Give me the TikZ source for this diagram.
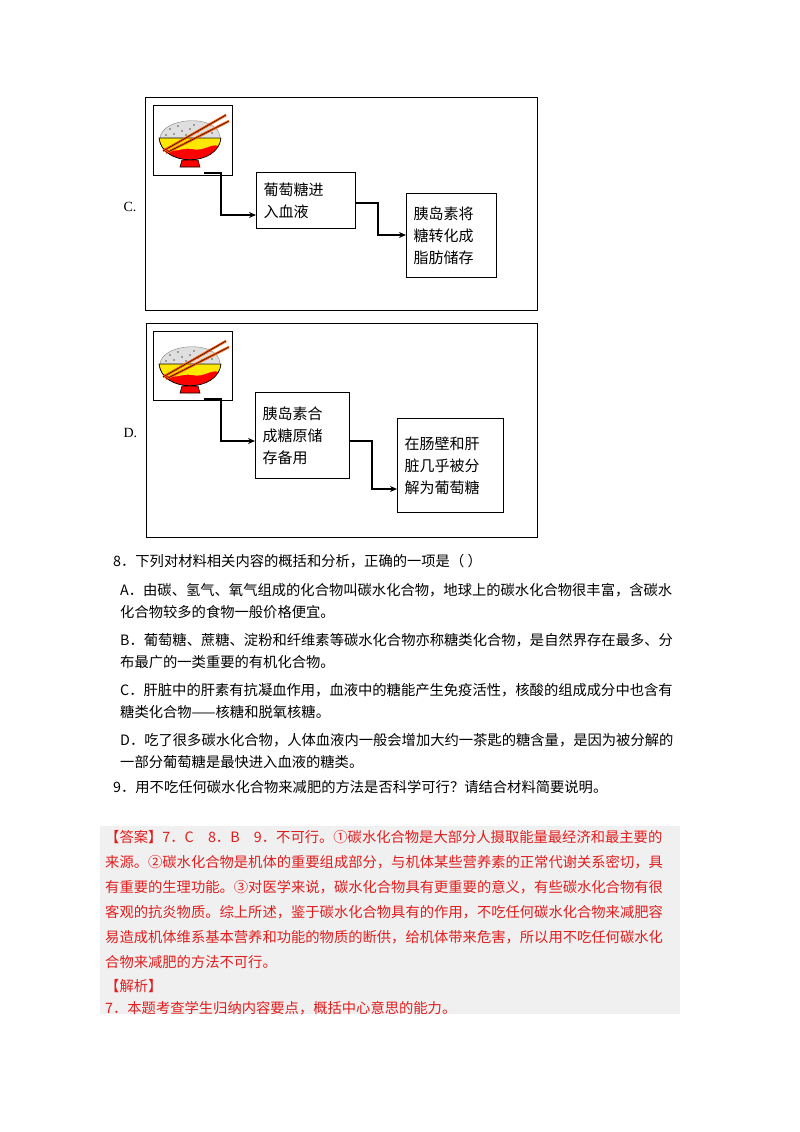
\documentclass[tikz,border=0pt]{standalone}
\usetikzlibrary{arrows.meta}
\usepackage{fontspec}
\setmainfont{Liberation Serif}
\newfontfamily\cjk{Noto Sans CJK SC}
\definecolor{ansred}{RGB}{225,30,30}
\definecolor{bgray}{RGB}{240,240,240}
\begin{document}
\begin{tikzpicture}[x=1pt,y=-1pt,
  frame/.style={draw,line width=1.3pt},
  stepbox/.style={draw,line width=1.3pt,align=left,inner sep=0pt,font=\cjk\fontsize{15}{22}\selectfont},
  arr/.style={line width=1.2pt,-{Stealth[length=7pt,width=6pt]}},
  txt/.style={anchor=west,inner sep=0pt,font=\cjk\fontsize{14.3}{16}\selectfont},
  rtxt/.style={txt,text=ansred}]
\useasboundingbox (0,0) rectangle (800,1132);
\newcommand\bowl[2]{%
 \begin{scope}[shift={(#1,#2)}]
  \fill[gray!25] (-30,4) .. controls (-30,-18) and (28,-22) .. (30,2) -- cycle;
  \draw[gray,line width=0.4pt] (-30,4) .. controls (-30,-18) and (28,-22) .. (30,2);
  \foreach \a/\b in {0/-6,8/-3,16/-8,-8/-4,-16/-1,4/-10,-12/-9,22/-2,-20/-6,12/-1,-4/0,20/-10,-24/0}{\fill[gray!70!black] (\a,\b) circle (0.9);}
  \fill[red] (-31,3) .. controls (-28,32) and (28,32) .. (31,3) -- cycle;
  \fill[yellow!90!orange] (-31,3) -- (31,3) -- (29,11) .. controls (20,8) and (14,17) .. (2,14) .. controls (-10,12) and (-16,20) .. (-28,12) -- cycle;
  \draw[line width=0.7pt] (-31,3) .. controls (-28,32) and (28,32) .. (31,3) -- cycle;
  \fill[red] (-8,25) -- (8,25) -- (10,32) -- (-10,32) -- cycle;
  \draw[line width=0.6pt] (-8,25) -- (8,25) -- (10,32) -- (-10,32) -- cycle;
  \draw[line width=2.4pt,orange!70!red] (-27,16) -- (36,-20);
  \draw[line width=2.4pt,orange!70!red] (-24,18) -- (39,-14);
  \draw[line width=0.4pt] (-27,16) -- (36,-20) (-24,18) -- (39,-14);
 \end{scope}}
% ---- C ----
\node[frame,minimum width=392,minimum height=213,anchor=north west] (fc) at (145,97) {};
\node[anchor=west,font=\fontsize{14}{16}\selectfont] (lc) at (120,207) {C.};
\node[draw,line width=1.2pt,minimum width=79,minimum height=70,anchor=north west] (bc) at (153,105) {};
\bowl{190}{135}
\coordinate (sc) at (204,173);
\node[stepbox,minimum width=99,minimum height=56,anchor=north west,text width=85] (c2) at (256,172) {葡萄糖进\\入血液};
\node[stepbox,minimum width=90,minimum height=84,anchor=north west,text width=76] (c3) at (406,193) {胰岛素将\\糖转化成\\脂肪储存};
\draw[arr] (sc) -| (221,215) -- (c2.west|-0,215);
\draw[arr] (c2.east|-0,203) -| (378,235) -- (c3.west|-0,235);
% ---- D ----
\node[frame,minimum width=391,minimum height=214,anchor=north west] (fd) at (146,323) {};
\node[anchor=west,font=\fontsize{14}{16}\selectfont] (ld) at (120,433) {D.};
\node[draw,line width=1.2pt,minimum width=79,minimum height=69,anchor=north west] (bd) at (153,331) {};
\bowl{190}{361}
\coordinate (sd) at (204,399);
\node[stepbox,minimum width=94,minimum height=86,anchor=north west,text width=80] (d2) at (255,392) {胰岛素合\\成糖原储\\存备用};
\node[stepbox,minimum width=106,minimum height=94,anchor=north west,text width=92] (d3) at (397,418) {在肠壁和肝\\脏几乎被分\\解为葡萄糖};
\draw[arr] (sd) -| (221,441) -- (d2.west|-0,441);
\draw[arr] (d2.east|-0,441) -| (372,489) -- (d3.west|-0,489);
% ---- questions ----
\node[txt] (q1) at (113,561) {8．下列对材料相关内容的概括和分析，正确的一项是（   ）};
\node[txt] (q2) at (120,590) {A．由碳、氢气、氧气组成的化合物叫碳水化合物，地球上的碳水化合物很丰富，含碳水};
\node[txt] (q3) at (120,612) {化合物较多的食物一般价格便宜。};
\node[txt] (q4) at (120,640) {B．葡萄糖、蔗糖、淀粉和纤维素等碳水化合物亦称糖类化合物，是自然界存在最多、分};
\node[txt] (q5) at (120,662) {布最广的一类重要的有机化合物。};
\node[txt] (q6) at (120,690) {C．肝脏中的肝素有抗凝血作用，血液中的糖能产生免疫活性，核酸的组成成分中也含有};
\node[txt] (q7) at (120,712) {糖类化合物——核糖和脱氧核糖。};
\node[txt] (q8) at (120,740) {D．吃了很多碳水化合物，人体血液内一般会增加大约一茶匙的糖含量，是因为被分解的};
\node[txt] (q9) at (120,762) {一部分葡萄糖是最快进入血液的糖类。};
\node[txt] (q10) at (113,787) {9．用不吃任何碳水化合物来减肥的方法是否科学可行？请结合材料简要说明。};
% ---- answer ----
\fill[bgray] (100,826) rectangle (680,1014);
\node[rtxt] (a1) at (105,837) {【答案】7．C\quad 8．B\quad 9．不可行。①碳水化合物是大部分人摄取能量最经济和最主要的};
\node[rtxt] (a2) at (105,862) {来源。②碳水化合物是机体的重要组成部分，与机体某些营养素的正常代谢关系密切，具};
\node[rtxt] (a3) at (105,887) {有重要的生理功能。③对医学来说，碳水化合物具有更重要的意义，有些碳水化合物有很};
\node[rtxt] (a4) at (105,912) {客观的抗炎物质。综上所述，鉴于碳水化合物具有的作用，不吃任何碳水化合物来减肥容};
\node[rtxt] (a5) at (105,937) {易造成机体维系基本营养和功能的物质的断供，给机体带来危害，所以用不吃任何碳水化};
\node[rtxt] (a6) at (105,962) {合物来减肥的方法不可行。};
\node[rtxt] (a7) at (105,986) {【解析】};
\node[rtxt] (a8) at (105,1008) {7．本题考查学生归纳内容要点，概括中心意思的能力。};
\end{tikzpicture}
\end{document}
